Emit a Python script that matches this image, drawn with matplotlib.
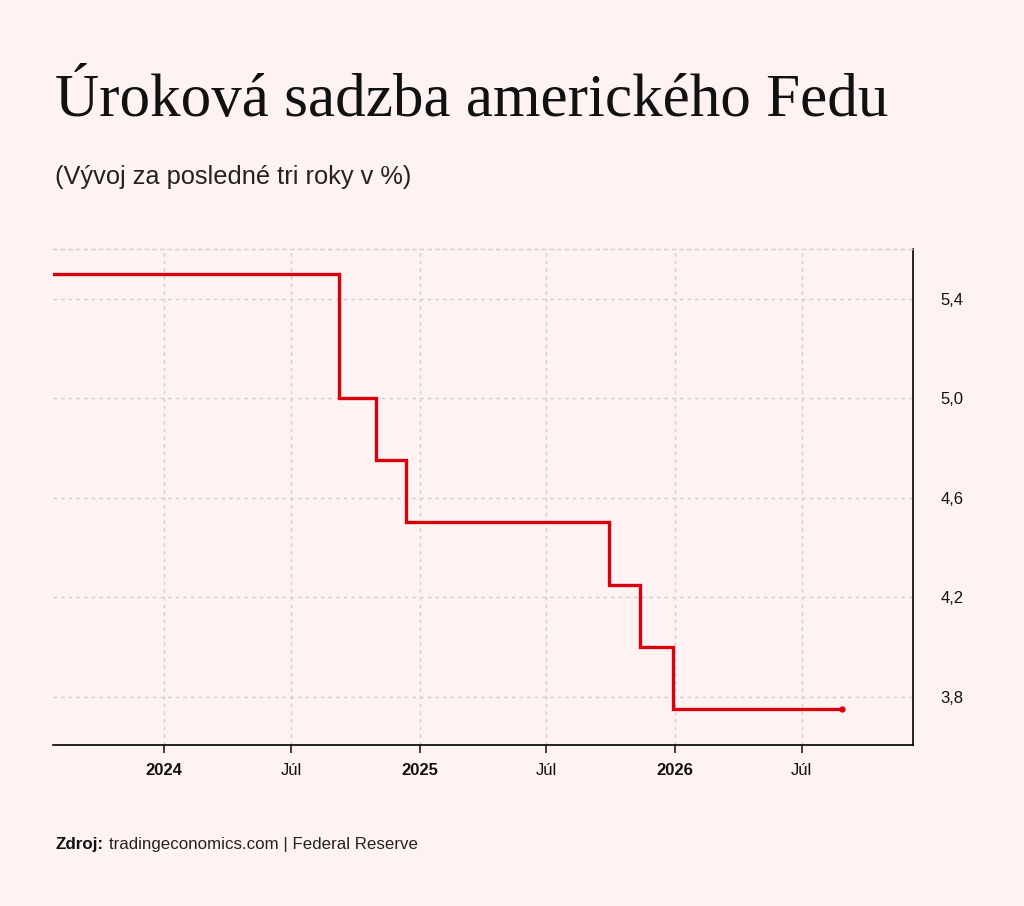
import matplotlib.pyplot as plt
import pandas as pd

# dátumy zmien sadzby (odčítané z grafu) a hodnoty v %
dates = ['2023-07-27', '2024-09-08', '2024-10-31', '2024-12-12',
         '2025-09-29', '2025-11-12', '2025-12-29', '2026-08-28']
rates = [5.5, 5.0, 4.75, 4.5, 4.25, 4.0, 3.75, 3.75]

tick_dates = ['2024-01-01', '2024-07-01', '2025-01-01', '2025-07-01',
              '2026-01-01', '2026-07-01']
tick_labels = ['2024', 'Júl', '2025', 'Júl', '2026', 'Júl']
y_ticks = [3.8, 4.2, 4.6, 5.0, 5.4]

bg = '#fff2f2'
red = '#d9000d'

x = pd.to_datetime(dates)

fig = plt.figure(figsize=(10.24, 9.06), dpi=100, facecolor=bg)
ax = fig.add_axes([0.0518, 0.1777, 0.8398, 0.5475], facecolor=bg)

ax.plot(x, rates, drawstyle='steps-post', color=red, lw=2.4, solid_joinstyle='miter')
ax.plot(x[-1:], rates[-1:], 'o', color=red, ms=3.5)

ax.set_xlim(pd.Timestamp('2023-07-27'), pd.Timestamp('2026-12-07'))
ax.set_ylim(3.605, 5.6)

ax.set_xticks(pd.to_datetime(tick_dates))
ax.set_xticklabels(tick_labels)
for lab, t in zip(ax.get_xticklabels(), tick_labels):
    lab.set_fontweight('bold' if t != 'Júl' else 'normal')
    lab.set_fontfamily('Liberation Sans')
    lab.set_fontsize(12)
    lab.set_color('#111111')

ax.yaxis.tick_right()
ax.set_yticks(y_ticks)
ax.set_yticklabels([f'{v:.1f}'.replace('.', ',') for v in y_ticks],
                   fontfamily='Liberation Sans', fontsize=12, color='#111111')
ax.tick_params(axis='y', length=0, pad=20)
ax.tick_params(axis='x', length=6, width=1.2, color='#222222', pad=7)

ax.grid(True, color='#d2cccc', linestyle=(0, (2.5, 3)), lw=1)
ax.set_axisbelow(True)

ax.spines['left'].set_visible(False)
ax.spines['top'].set_color('#d2cccc')
ax.spines['top'].set_linestyle((0, (2.5, 3)))
ax.spines['top'].set_linewidth(1)
ax.spines['right'].set_linewidth(1.2)
ax.spines['bottom'].set_linewidth(1.2)

fig.text(0.054, 0.872, 'Úroková sadzba amerického Fedu', fontsize=44,
         fontfamily='Liberation Serif', color='#111111')
fig.text(0.054, 0.797, '(Vývoj za posledné tri roky v %)', fontsize=18.3,
         fontfamily='Liberation Sans', color='#222222')
fig.text(0.054, 0.063, 'Zdroj:', fontsize=12.2, fontweight='bold',
         fontfamily='Liberation Sans', color='#111111')
fig.text(0.1065, 0.063, 'tradingeconomics.com | Federal Reserve', fontsize=12.2,
         fontfamily='Liberation Sans', color='#222222')

fig.savefig('out.png', dpi=100, facecolor=bg)
